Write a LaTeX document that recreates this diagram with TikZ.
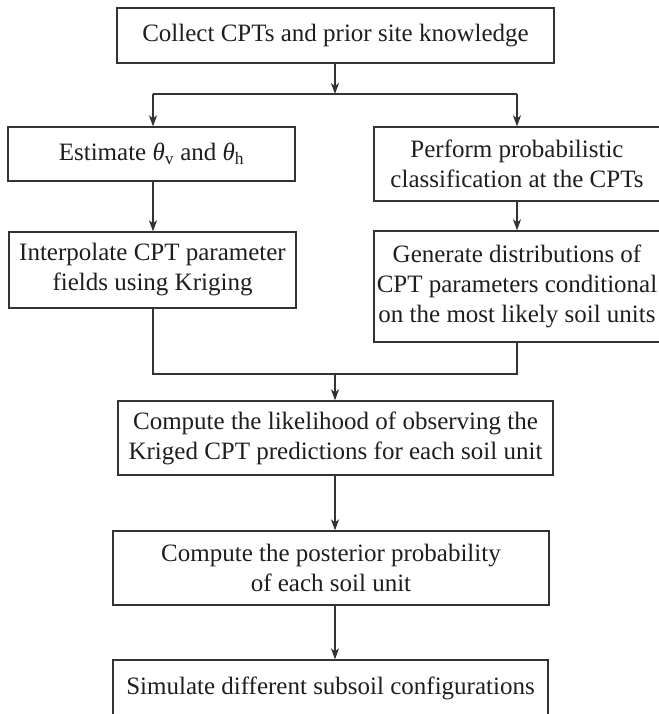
\documentclass[tikz,border=0pt]{standalone}
\usepackage{fontspec}
\setmainfont{Liberation Serif}
\usetikzlibrary{arrows.meta}
\definecolor{linec}{HTML}{333333}
\definecolor{textc}{HTML}{1E1E1E}
\tikzset{
  box/.style={draw=linec, line width=1.3pt, inner sep=0pt, align=center, text=textc,
    font=\fontsize{25}{30}\selectfont},
  conn/.style={draw=linec, line width=1.3pt},
  arr/.style={conn, -{Stealth[length=11pt, width=8pt, inset=3pt]}}
}
\newcommand{\thsub}[1]{{\itshape θ}\textsubscript{#1}}
\begin{document}
\begin{tikzpicture}[x=1pt, y=-1pt]
\useasboundingbox (0,0) rectangle (658,714);
\node[box, minimum width=437, minimum height=55] (top) at (335.5,35.5) {Collect CPTs and prior site knowledge};
\node[box, minimum width=287, minimum height=54] (est) at (151.5,154) {Estimate \thsub{v} and \thsub{h}};
\node[box, minimum width=287, minimum height=76] (interp) at (152.5,270) {Interpolate CPT parameter\\fields using Kriging};
\node[box, minimum width=286, minimum height=74] (perf) at (517,164) {Perform probabilistic\\classification at the CPTs};
\node[box, minimum width=286, minimum height=111] (gen) at (517,286.5) {Generate distributions of\\CPT parameters conditional\\on the most likely soil units};
\node[box, minimum width=435, minimum height=74] (lik) at (335.5,438) {Compute the likelihood of observing the\\Kriged CPT predictions for each soil unit};
\node[box, minimum width=436, minimum height=74] (post) at (331,568) {Compute the posterior probability\\of each soil unit};
\node[box, minimum width=435, minimum height=56] (sim) at (330.5,688) {Simulate different subsoil configurations};
\coordinate (tj) at (335,94);
\coordinate (tjl) at (153,94);
\coordinate (tjr) at (517,94);
\coordinate (mj) at (335,374);
\draw[arr] (top.south -| tj) -- (tj);
\draw[conn] (tjl) -- (tjr);
\draw[arr] (tjl) -- (est.north -| tjl);
\draw[arr] (tjr) -- (perf.north);
\draw[arr] (est.south -| tjl) -- (interp.north -| tjl);
\draw[arr] (perf.south) -- (gen.north);
\draw[conn] (interp.south -| tjl) |- (mj) -| (gen.south);
\draw[arr] (mj) -- (lik.north -| mj);
\draw[arr] (lik.south -| mj) -- (post.north -| mj);
\draw[arr] (post.south -| mj) -- (sim.north -| mj);
\end{tikzpicture}
\end{document}
